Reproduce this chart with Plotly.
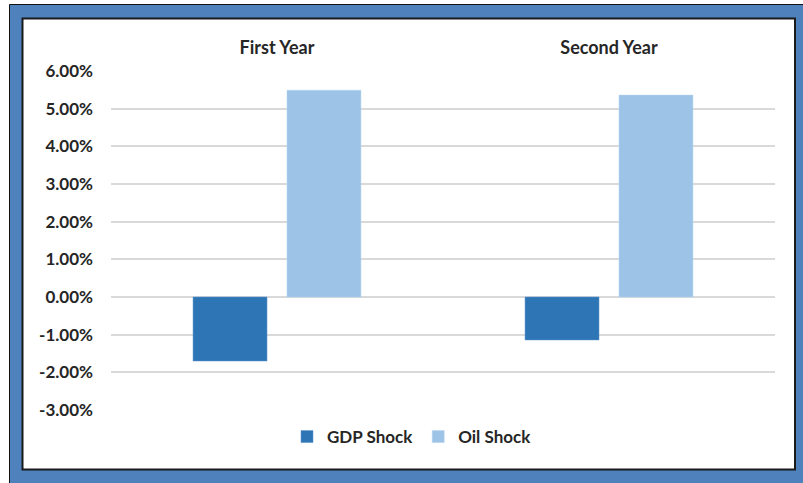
import plotly.graph_objects as go

categories = ["First Year", "Second Year"]
gdp_shock = [-0.0170, -0.0114]
oil_shock = [0.0549, 0.0536]
tick_vals = [-0.03, -0.02, -0.01, 0.0, 0.01, 0.02, 0.03, 0.04, 0.05, 0.06]
tick_text = ["-3.00%", "-2.00%", "-1.00%", "0.00%", "1.00%", "2.00%",
             "3.00%", "4.00%", "5.00%", "6.00%"]

W, H = 803, 483
L, R, T, B = 111, 775, 71, 410

def px(x):
    return (x - L) / (R - L)

def py(y):
    return (B - y) / (B - T)

FONT = "Lato"
TXT = "#262626"

fig = go.Figure()
fig.add_trace(go.Bar(name="GDP Shock", x=categories, y=gdp_shock,
                     marker=dict(color="#2E75B6", line=dict(color="#5B93CC", width=0.5))))
fig.add_trace(go.Bar(name="Oil Shock", x=categories, y=oil_shock,
                     marker=dict(color="#9DC3E6", line=dict(color="#B5D2EE", width=0.5))))

fig.update_layout(
    width=W, height=H,
    margin=dict(l=L, r=W - R, t=T, b=H - B, pad=0),
    paper_bgcolor="white",
    plot_bgcolor="rgba(0,0,0,0)",
    barmode="group",
    bargap=0.434,
    bargroupgap=0.213,
    font=dict(family=FONT, size=17, color=TXT),
    showlegend=True,
    legend=dict(orientation="h", x=px(412), y=py(437), xanchor="center", yanchor="middle",
                bgcolor="rgba(0,0,0,0)",
                font=dict(family=FONT, size=17, color=TXT, weight="bold"),
                itemwidth=30, tracegroupgap=0),
    xaxis=dict(side="top", showgrid=False, showline=False, zeroline=False, ticks="",
               tickfont=dict(family=FONT, size=18, color=TXT, weight="bold"),
               ticklabelstandoff=12),
    yaxis=dict(range=[-0.03, 0.06], tickvals=tick_vals, ticktext=tick_text,
               showgrid=True, gridcolor="#D9D9D9", gridwidth=1.5,
               zeroline=True, zerolinecolor="#D9D9D9", zerolinewidth=1.5,
               showline=False, ticks="",
               tickfont=dict(family=FONT, size=17, color=TXT, weight="bold"),
               ticklabelstandoff=17),
    shapes=[
        dict(type="rect", xref="paper", yref="paper", layer="below",
             x0=px(9.5), x1=px(806), y0=py(490), y1=py(4.5),
             fillcolor="#4F81BD", line=dict(color="#111111", width=1)),
        dict(type="rect", xref="paper", yref="paper", layer="below",
             x0=px(22.5), x1=px(795), y0=py(469.5), y1=py(18.5),
             fillcolor="white", line=dict(color="#1A1A1A", width=2)),
    ],
)

fig.write_html("out.html")
